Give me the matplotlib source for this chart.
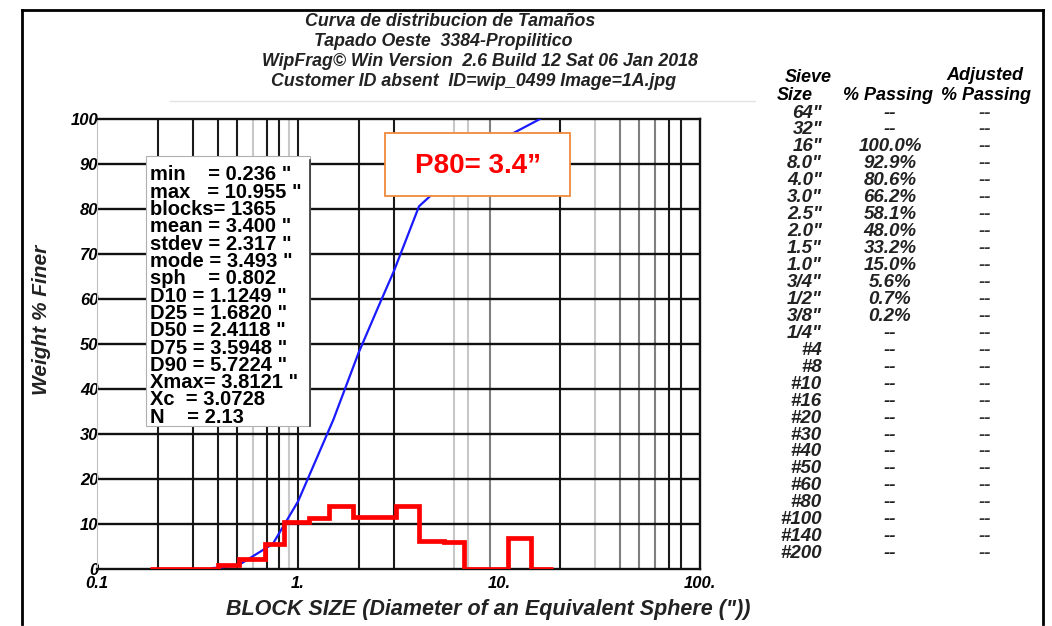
import matplotlib
matplotlib.use('Agg')
import matplotlib.pyplot as plt
from matplotlib.patches import Rectangle
from matplotlib.lines import Line2D
from matplotlib.ticker import NullLocator

plt.rcParams['font.family'] = ['Liberation Sans', 'DejaVu Sans']

W, H = 1052, 626

# sieve table
sieve_labels = ['64"', '32"', '16"', '8.0"', '4.0"', '3.0"', '2.5"', '2.0"', '1.5"', '1.0"',
                '3/4"', '1/2"', '3/8"', '1/4"', '#4', '#8', '#10', '#16', '#20', '#30',
                '#40', '#50', '#60', '#80', '#100', '#140', '#200']
passing_labels = ['--', '--', '100.0%', '92.9%', '80.6%', '66.2%', '58.1%', '48.0%', '33.2%',
                  '15.0%', '5.6%', '0.7%', '0.2%'] + ['--'] * 14
adjusted_labels = ['--'] * 27

# cumulative curve (size in inches, % passing)
curve_size = [0.375, 0.5, 0.75, 1.0, 1.5, 2.0, 2.5, 3.0, 4.0, 8.0, 16.0]
curve_pass = [0.2, 0.7, 5.6, 15.0, 33.2, 48.0, 58.1, 66.2, 80.6, 92.9, 100.0]

# histogram (red steps)
hist_edges = [0.183, 0.40, 0.507, 0.682, 0.847, 1.13, 1.43, 1.88, 3.08, 4.0, 5.33, 6.7, 11.1, 14.4, 18.5]
hist_vals = [0, 0.9, 2.3, 5.5, 10.4, 11.3, 14.0, 11.6, 14.0, 6.3, 6.0, 0, 6.8, 0]

stats_lines = ['min    = 0.236 "', 'max   = 10.955 "', 'blocks= 1365', 'mean = 3.400 "',
               'stdev = 2.317 "', 'mode = 3.493 "', 'sph    = 0.802', 'D10 = 1.1249 "',
               'D25 = 1.6820 "', 'D50 = 2.4118 "', 'D75 = 3.5948 "', 'D90 = 5.7224 "',
               'Xmax= 3.8121 "', 'Xc  = 3.0728', 'N    = 2.13']

title_lines = ['Curva de distribucion de Tamaños', 'Tapado Oeste  3384-Propilitico',
               'WipFrag© Win Version  2.6 Build 12 Sat 06 Jan 2018',
               'Customer ID absent  ID=wip_0499 Image=1A.jpg']

x_ticks = [0.1, 1, 10, 100]
x_tick_labels = ['0.1', '1.', '10.', '100.']
y_ticks = list(range(0, 101, 10))

grid_dark = [0.2, 0.3, 0.4, 0.5, 0.7, 0.8, 1, 2, 3, 20, 70, 80]
grid_mid = [9, 40, 50, 60]
grid_light = [0.6, 0.9, 6, 7, 30]


def fx(x):
    return x / W


def fy(y):
    return 1 - y / H


fig = plt.figure(figsize=(W / 100, H / 100), dpi=100)
ax = fig.add_axes([fx(97), fy(569), fx(700) - fx(97), fy(119) - fy(569)])
ax.set_xscale('log')
ax.set_xlim(0.1, 100)
ax.set_ylim(0, 100)

for v in grid_dark:
    ax.axvline(v, color='#1a1a1a', lw=1.5, zorder=1)
for v in grid_mid:
    ax.axvline(v, color='#808080', lw=1.5, zorder=1)
for v in grid_light:
    ax.axvline(v, color='#c8c8c8', lw=1.5, zorder=1)
for v in y_ticks[1:-1]:
    ax.axhline(v, color='#111111', lw=1.7, zorder=1)

ax.plot(curve_size, curve_pass, color='#1a1aff', lw=1.6, zorder=3)
ax.stairs(hist_vals, hist_edges, baseline=None, color='#ff0000', lw=3.4, zorder=4)

ax.set_xticks(x_ticks, x_tick_labels)
ax.xaxis.set_minor_locator(NullLocator())
ax.set_yticks(y_ticks)
ax.tick_params(length=0, labelsize=12)
ax.tick_params(axis='y', pad=-1)
ax.tick_params(axis='x', pad=5)
for lab in ax.get_xticklabels() + ax.get_yticklabels():
    lab.set_fontweight('bold')
    lab.set_fontstyle('italic')
for s in ['top', 'right', 'bottom']:
    ax.spines[s].set_linewidth(1.7)
    ax.spines[s].set_color('#111111')
ax.spines['left'].set_color('#c0c0c0')
ax.spines['left'].set_linewidth(0.8)

# stats box
fig.add_artist(Rectangle((fx(146), fy(426)), fx(310) - fx(146), fy(156) - fy(426),
                         transform=fig.transFigure, facecolor='white',
                         edgecolor='#b0b0b0', lw=0.8, zorder=5))
fig.add_artist(Line2D([fx(310), fx(310)], [fy(160), fy(426)], color='#333333', lw=1.2, zorder=6))
for i, s in enumerate(stats_lines):
    fig.text(fx(150), fy(175 + i * 17.3), s, fontsize=14.5, fontweight='bold',
             va='center', ha='left', zorder=7)

# P80 box
fig.add_artist(Rectangle((fx(385), fy(196)), fx(570) - fx(385), fy(133) - fy(196),
                         transform=fig.transFigure, facecolor='white',
                         edgecolor='#f08a3c', lw=1.3, zorder=5))
fig.text(fx(478), fy(166), 'P80= 3.4\u201d', color='#ff0000', fontsize=20,
         fontweight='bold', ha='center', va='center', zorder=7)

# title
title_pos = [(450, 22), (443, 42), (480, 62), (474, 82)]
for s, (x, y) in zip(title_lines, title_pos):
    fig.text(fx(x), fy(y), s, fontsize=12.8, fontweight='bold', fontstyle='italic',
             ha='center', va='center', color='#222222')

# axis labels
fig.text(fx(42), fy(320), 'Weight % Finer', rotation=90, fontsize=15, fontweight='bold',
         fontstyle='italic', ha='center', va='center', color='#222222')
fig.text(fx(491), fy(610), 'BLOCK SIZE (Diameter of an Equivalent Sphere (")) ', fontsize=15.5,
         fontweight='bold', fontstyle='italic', ha='center', va='center', color='#222222')

# sieve table
hdr = dict(fontsize=13, fontweight='bold', fontstyle='italic', ha='center', va='center')
fig.text(fx(808), fy(77), 'Sieve', **hdr)
fig.text(fx(795), fy(95), 'Size', **hdr)
fig.text(fx(888), fy(95), '% Passing', **hdr)
fig.text(fx(985), fy(76), 'Adjusted', **hdr)
fig.text(fx(986), fy(95), '% Passing', **hdr)
for i in range(len(sieve_labels)):
    y = 113 + i * 16.95
    fig.text(fx(822), fy(y), sieve_labels[i], fontsize=13.5, fontweight='bold',
             fontstyle='italic', ha='right', va='center', color='#222222')
    fig.text(fx(890), fy(y), passing_labels[i], fontsize=13.5, fontweight='bold',
             fontstyle='italic', ha='center', va='center', color='#222222')
    fig.text(fx(985), fy(y), adjusted_labels[i], fontsize=13.5, fontweight='bold',
             fontstyle='italic', ha='center', va='center', color='#333333')

# page frame
fig.add_artist(Line2D([fx(22), fx(1043)], [fy(10), fy(10)], color='black', lw=2))
fig.add_artist(Line2D([fx(22), fx(22)], [fy(10), fy(624)], color='black', lw=2))
fig.add_artist(Line2D([fx(1043), fx(1043)], [fy(10), fy(624)], color='black', lw=2))
fig.add_artist(Line2D([fx(170), fx(755)], [fy(101), fy(101)], color='#e4e4e4', lw=1))

plt.savefig('out.png', dpi=100)
plt.close()
